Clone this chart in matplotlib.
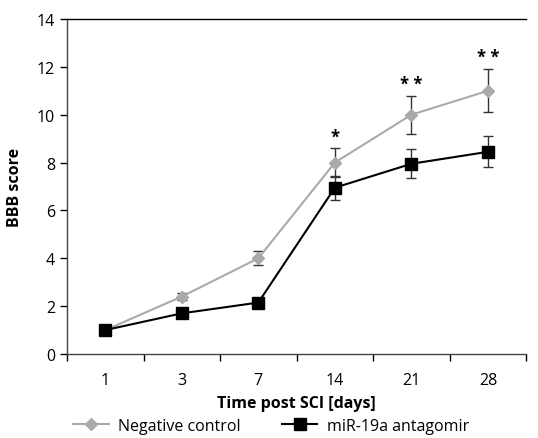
import numpy as np
import matplotlib.pyplot as plt
from matplotlib.lines import Line2D

plt.rcParams['font.family'] = ['Open Sans', 'DejaVu Sans']

# Data
days = ['1', '3', '7', '14', '21', '28']
control = [1.0, 2.4, 4.0, 8.0, 10.0, 11.0]
control_err = [0.0, 0.15, 0.3, 0.6, 0.8, 0.9]
antagomir = [1.0, 1.7, 2.15, 6.95, 7.95, 8.45]
antagomir_err = [0.0, 0.0, 0.0, 0.5, 0.6, 0.65]
stars = ['', '', '', '*', '* *', '* *']

x = np.arange(len(days))
grey = '#aaaaaa'

fig = plt.figure(figsize=(5.38, 4.39), dpi=100)
ax = fig.add_axes([0.1245, 0.1913, 0.8535, 0.7631])

ax.errorbar(x, control, yerr=control_err, color=grey, marker='D', markersize=6,
            linewidth=1.5, ecolor='#333333', elinewidth=1, capsize=3.5, capthick=1,
            zorder=3)
ax.errorbar(x, antagomir, yerr=antagomir_err, color='black', marker='s', markersize=9,
            linewidth=1.5, ecolor='#333333', elinewidth=1, capsize=3.5, capthick=1,
            zorder=4)

# significance marks
for xi, yi, ei, s in zip(x, control, control_err, stars):
    if s:
        ax.text(xi, yi + ei + 0.12, s, ha='center', va='bottom', fontsize=12,
                fontweight='bold')

ax.set_xlim(-0.5, len(days) - 0.5)
ax.set_ylim(0, 14)
ax.set_yticks(np.arange(0, 15, 2))
ax.set_xticks(x)
ax.set_xticklabels(days)
ax.set_xticks(np.arange(-0.5, len(days), 1), minor=True)
ax.tick_params(axis='x', which='major', length=0, labelsize=11.5, pad=13)
ax.tick_params(axis='x', which='minor', length=5, direction='out', width=1)
ax.tick_params(axis='y', length=5, width=1, labelsize=11.5, direction='out')

ax.spines['right'].set_visible(False)
for sp in ['left', 'bottom', 'top']:
    ax.spines[sp].set_linewidth(1)
ax.spines['left'].set_color('#444444')
ax.spines['bottom'].set_color('#444444')

ax.set_xlabel('Time post SCI [days]', fontsize=11.5, fontweight='bold', labelpad=5)
ax.set_ylabel('BBB score', fontsize=11.5, fontweight='bold', labelpad=10)

handles = [Line2D([], [], color=grey, marker='D', markersize=6, linewidth=1.5),
           Line2D([], [], color='black', marker='s', markersize=9, linewidth=1.5)]
ax.legend(handles, ['Negative control', 'miR-19a antagomir'], loc='center left',
          bbox_to_anchor=(0.0, -0.215), ncol=2, frameon=False, fontsize=11.5,
          handlelength=2.2, handletextpad=0.6, columnspacing=2.6, borderaxespad=0)

fig.savefig('out.png', dpi=100)
